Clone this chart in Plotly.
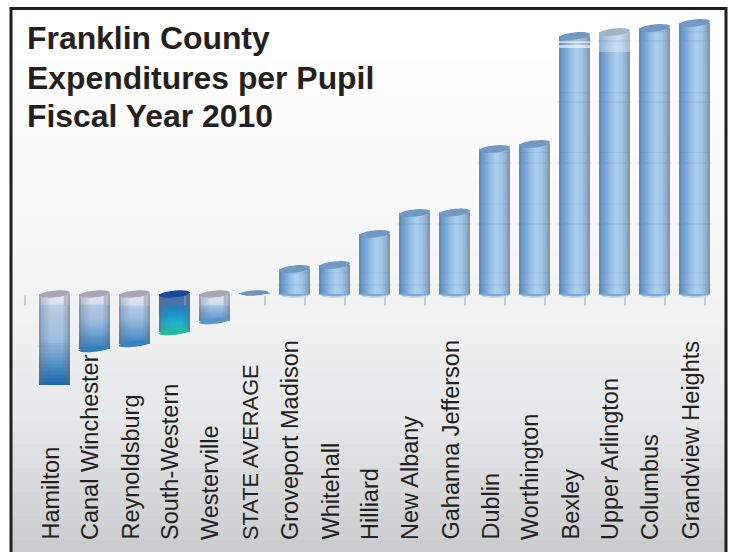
import numpy as np
import plotly.graph_objects as go

# ---- data (dollars relative to the state average) ----
categories = ["Hamilton", "Canal Winchester", "Reynoldsburg", "South-Western", "Westerville",
              "STATE AVERAGE", "Groveport Madison", "Whitehall", "Hilliard", "New Albany",
              "Gahanna Jefferson", "Dublin", "Worthington", "Bexley", "Upper Arlington",
              "Columbus", "Grandview Heights"]
values = [-1492, -902, -820, -623, -443, 16, 410, 475, 984, 1328, 1336, 2377, 2459,
          4230, 4295, 4361, 4443]
major_grid = [-852, 148, 1148, 2148, 3148, 4148]
minor_grid = [344, 1475, 2317, 3300, 4300]
title_lines = ["Franklin County", "Expenditures per Pupil", "Fiscal Year 2010"]

W, H = 730, 552
PX0, SCALE = 294, 1000 / 61          # zero level pixel, value per pixel
X0, STEP = 54.5, 40                  # first bar centre pixel, pixels per category
HALF = 15.5 / STEP
xs = list(range(len(categories)))
y_range = [(PX0 - H) * SCALE, PX0 * SCALE]
x_range = [-X0 / STEP, (W - X0) / STEP]
INK = "#231f20"
FONT = "Liberation Sans, Arial, sans-serif"


def hexmix(a, b, w):
    a, b = np.array(a, float), np.array(b, float)
    c = a * (1 - w) + b * w
    return "rgb(%d,%d,%d)" % tuple(np.round(c))


def rgb(h):
    return [int(h[i:i + 2], 16) for i in (1, 3, 5)]


def ramp(stops, d):
    ds = [s[0] for s in stops]
    cols = np.array([rgb(s[1]) for s in stops], float)
    return [float(np.interp(d, ds, cols[:, k])) for k in range(3)]


POS_PROFILE = [(0, "#5a88b8"), (.12, "#6b9bca"), (.3, "#89b5de"), (.55, "#abd0ee"),
               (.78, "#9dc0e0"), (.9, "#8aa6c4"), (1, "#7b8fa6")]
END_BY_DEPTH = [(27, "#5a96ce"), (50, "#3582c2"), (91, "#1669ab")]
SW_STOPS = [(0, "#4c70a8"), (11, "#4676ae"), (12, "#2a7fbd"), (20, "#1d92cc"), (28, "#1bb2d2"),
            (40, "#27bf9c")]


def neg_color(name, v, d):
    depth = -v / SCALE
    if name == "South-Western":
        return ramp(SW_STOPS, d)
    end = "#%02x%02x%02x" % tuple(int(round(c)) for c in ramp(END_BY_DEPTH, depth))
    col = ramp([(0, "#c8d2e4"), (.5, "#9dbfe2"), (1, end)], d / depth)
    if d < 11:
        col = [c * .55 + 255 * .45 for c in col]
    return col


def edge_weight(f):
    return float(np.interp(f, [0, .1, .4, .75, .9, 1], [.62, .28, 0, .02, .3, .55]))


fig = go.Figure()

# full-height base bars (the actual series)
fig.add_trace(go.Bar(x=xs, y=values, width=2 * HALF, name="Expenditures per Pupil",
                     marker=dict(color="#8fb8df", line=dict(width=0)), showlegend=False))

# cylinder shading: narrow vertical strips, with depth bands on negative bars
N, K = 14, 26
OVERLAP = 1.2 * SCALE
for j in range(N):
    f = (j + .5) / N
    px_x, px_base, px_h, px_c = [], [], [], []
    for i, v in enumerate(values):
        if v >= 0:
            px_x.append(i); px_base.append(0); px_h.append(v)
            px_c.append(hexmix(ramp(POS_PROFILE, f), ramp(POS_PROFILE, f), 0))
        else:
            for k in range(K):
                a, b = v * k / K, v * (k + 1) / K
                d = -(a + b) / 2 / SCALE
                px_x.append(i); px_base.append(a); px_h.append(max(b - OVERLAP, v) - a)
                px_c.append(hexmix(neg_color(categories[i], v, d), [95, 105, 125], edge_weight(f)))
    w = 2 * HALF / N
    offset = -HALF + j * w
    fig.add_trace(go.Bar(x=px_x, y=px_h, base=px_base, width=min(w + .03, HALF - offset), offset=offset,
                         showlegend=False, hoverinfo="skip", marker=dict(color=px_c, line=dict(width=0))))

# pale overlays near the tops of Bexley and Upper Arlington
overlay_x = [13, 13, 14]
overlay_base = [4033, 4115, 3967]
overlay_h = [50, 35, 328]
fig.add_trace(go.Bar(x=overlay_x, y=overlay_h, base=overlay_base, width=2 * HALF, showlegend=False,
                     hoverinfo="skip", marker=dict(color=["rgba(255,255,255,.6)", "rgba(255,255,255,.6)",
                                                          "rgba(255,255,255,.32)"], line=dict(width=0))))


shapes = []


def ellipse(i, v, ry, tilt, color, t0=0, t1=2 * np.pi, half=HALF, n=48):
    t = np.linspace(t0, t1, n)
    x = i + half * np.cos(t)
    y = v + SCALE * (ry * np.sin(t) + tilt * np.cos(t))
    d = "M" + "L".join("%.4f,%.2f" % p for p in zip(x, y)) + "Z"
    shapes.append(dict(type="path", path=d, xref="x", yref="y", layer="above",
                       fillcolor=color, line=dict(width=0)))


# page background (drawn first, below)
BG = [(0, "#ffffff"), (150, "#fbfbfb"), (300, "#f2f3f3"), (420, "#e6e7e8"), (480, "#d8dadb"), (552, "#c9cbcc")]
for k in range(46):
    p0, p1 = k * 12, (k + 1) * 12
    c = ramp(BG, (p0 + p1) / 2)
    shapes.append(dict(type="rect", xref="paper", yref="paper", layer="below", x0=11 / W, x1=726 / W,
                       y0=1 - min(p1 + 1, H) / H, y1=1 - max(p0, 8) / H,
                       fillcolor=hexmix(c, c, 0), line=dict(width=0)))

for i, v in enumerate(values):
    name = categories[i]
    if v >= 0:
        if name != "STATE AVERAGE":
            ellipse(i, 0, 4, 0, "#c3d8ec", np.pi, 2 * np.pi)
            ellipse(i, 0, 2.2, 0, "#7fa9d2", np.pi, 2 * np.pi)
            ellipse(i, v, 3.6, 1.6, "#a3b3c6" if name == "Upper Arlington" else "#7298c3")
        else:
            ellipse(i, v, 2.6, .8, "#6d93bb", half=HALF * .9)
    else:
        if name != "Hamilton":
            ellipse(i, v, 2.8, 1.6, hexmix(neg_color(name, v, -v / SCALE), [95, 105, 125], .05))
        ellipse(i, 0, 3.4, 1.4, "#17489a" if name == "South-Western" else "#aaa6b8")

# grid marks visible only across the bars
gx, gy = [], []
for g in major_grid:
    for i, v in enumerate(values):
        if (g > 0 and g < v) or (g < 0 and g > v):
            gx.append(i); gy.append(g)
fig.add_trace(go.Scatter(x=gx, y=gy, mode="markers", hoverinfo="skip", showlegend=False,
                         marker=dict(symbol="line-ew", size=24, line=dict(width=1, color="rgba(120,135,150,.32)"))))
mx, my = [], []
for g in minor_grid:
    for i, v in enumerate(values):
        if 0 < g < v:
            mx.append(i); my.append(g)
fig.add_trace(go.Scatter(x=mx, y=my, mode="markers", hoverinfo="skip", showlegend=False,
                         marker=dict(symbol="line-ew", size=22, line=dict(width=1, color="rgba(90,105,125,.14)"))))

# category tick marks at the zero level (offset by the 3-D depth of the original)
tx = [i - 29.5 / STEP for i in range(len(categories) + 1)]
fig.add_trace(go.Scatter(x=tx, y=[-6.5 * SCALE] * len(tx), mode="markers", hoverinfo="skip", showlegend=False,
                         marker=dict(symbol="line-ns", size=7, line=dict(width=1, color="#a3a5a8"))))

# frame
shapes.append(dict(type="rect", xref="paper", yref="paper", layer="above", x0=11 / W, x1=726 / W,
                   y0=-.02, y1=1 - 8.5 / H, line=dict(color=INK, width=3), fillcolor="rgba(0,0,0,0)"))

annotations = [dict(text=c, x=i - 4.5 / STEP, xref="x", y=1 - 542 / H, yref="paper", textangle=-90,
                    xanchor="center", yanchor="bottom", showarrow=False,
                    font=dict(family=FONT, size=21.8 if c == "STATE AVERAGE" else 23.5, color=INK))
               for i, c in enumerate(categories)]
for line, py in zip(title_lines, [38, 78, 116]):
    annotations.append(dict(text="<b>%s</b>" % line, x=26 / W, xref="paper", y=1 - py / H, yref="paper",
                            xanchor="left", yanchor="middle", showarrow=False, borderpad=0,
                            font=dict(family=FONT, size=31.9, color=INK)))

fig.update_layout(
    width=W, height=H, margin=dict(l=0, r=0, t=0, b=0), autosize=False,
    paper_bgcolor="white", plot_bgcolor="rgba(0,0,0,0)", barmode="overlay", showlegend=False,
    xaxis=dict(range=x_range, visible=False, fixedrange=True),
    yaxis=dict(range=y_range, visible=False, fixedrange=True),
    shapes=shapes, annotations=annotations,
)

fig.write_html("out.html", config=dict(displayModeBar=False),
               post_script="document.body.style.margin='0';document.body.style.overflow='hidden';")
